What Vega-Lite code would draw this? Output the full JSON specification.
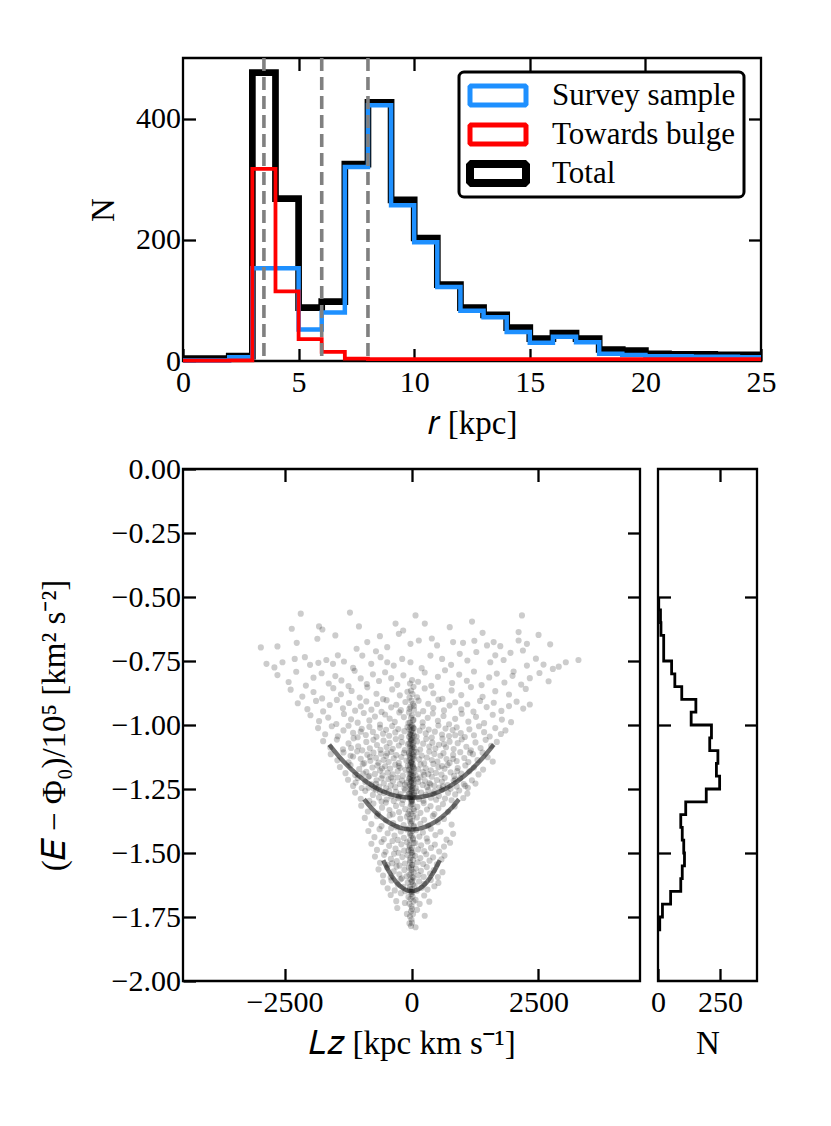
{
  "$schema": "https://vega.github.io/schema/vega-lite/v6.json",
  "background": "white",
  "padding": {"left": 36, "top": 55, "right": 5, "bottom": 5},
  "config": {
    "font": "Liberation Serif",
    "view": {"stroke": "black", "strokeWidth": 2.3},
    "axis": {
      "domain": false, "grid": false, "labelFlush": false,
      "tickColor": "black", "tickWidth": 2.3, "tickSize": -12.5,
      "labelFont": "Liberation Serif", "labelFontSize": 30, "labelColor": "black", "labelPadding": 15,
      "titleFont": "Liberation Serif", "titleFontSize": 33, "titleFontWeight": "normal", "titleColor": "black"
    },
    "axisX": {"labelPadding": 19},
    "legend": {"strokeWidth": 3}
  },
  "bounds": "flush",
  "spacing": 108,
  "vconcat": [
    {
      "width": 578,
      "height": 303,
      "data": {
        "values": "s,r,n\nTotal,0,4\nTotal,1,4\nTotal,2,8\nTotal,3,476\nTotal,4,268\nTotal,5,88\nTotal,6,98\nTotal,7,325\nTotal,8,427\nTotal,9,266\nTotal,10,203\nTotal,11,126\nTotal,12,88\nTotal,13,76\nTotal,14,55\nTotal,15,37\nTotal,16,46\nTotal,17,37\nTotal,18,19\nTotal,19,17\nTotal,20,12\nTotal,21,11\nTotal,22,11\nTotal,23,10\nTotal,24,10\nTotal,25,10\nSurvey sample,0,1\nSurvey sample,1,1\nSurvey sample,2,6\nSurvey sample,3,153\nSurvey sample,4,153\nSurvey sample,5,52\nSurvey sample,6,80\nSurvey sample,7,320\nSurvey sample,8,422\nSurvey sample,9,257\nSurvey sample,10,196\nSurvey sample,11,122\nSurvey sample,12,83\nSurvey sample,13,72\nSurvey sample,14,48\nSurvey sample,15,30\nSurvey sample,16,40\nSurvey sample,17,31\nSurvey sample,18,12\nSurvey sample,19,10\nSurvey sample,20,8\nSurvey sample,21,8\nSurvey sample,22,7\nSurvey sample,23,7\nSurvey sample,24,6\nSurvey sample,25,6\nTowards bulge,0,0.5\nTowards bulge,1,0.5\nTowards bulge,2,1\nTowards bulge,3,317\nTowards bulge,4,115\nTowards bulge,5,36\nTowards bulge,6,15\nTowards bulge,7,4\nTowards bulge,8,3\nTowards bulge,9,3\nTowards bulge,10,3\nTowards bulge,11,3\nTowards bulge,12,3\nTowards bulge,13,3\nTowards bulge,14,3\nTowards bulge,15,3\nTowards bulge,16,3\nTowards bulge,17,3\nTowards bulge,18,3\nTowards bulge,19,3\nTowards bulge,20,3\nTowards bulge,21,3\nTowards bulge,22,3\nTowards bulge,23,3\nTowards bulge,24,3\nTowards bulge,25,3",
        "format": {"type": "csv", "parse": {"r": "number", "n": "number"}}
      },
      "layer": [
        {
          "transform": [{"filter": "datum.s == 'Total'"}],
          "mark": {"type": "line", "interpolate": "step-after", "strokeWidth": 6.7, "strokeJoin": "miter", "strokeCap": "butt"},
          "encoding": {
            "x": {"field": "r", "type": "quantitative", "scale": {"domain": [0, 25], "nice": false},
                  "axis": {"values": [0, 5, 10, 15, 20, 25], "format": "d", "title": "𝑟 [kpc]", "titlePadding": 10}},
            "y": {"field": "n", "type": "quantitative", "scale": {"domain": [0, 500], "nice": false},
                  "axis": {"values": [0, 200, 400], "format": "d", "title": "N", "titlePadding": 15}},
            "color": {
              "field": "s", "type": "nominal",
              "scale": {"domain": ["Survey sample", "Towards bulge", "Total"], "range": ["#1E90FF", "#FF0000", "#000000"]},
              "legend": {
                "title": null, "orient": "none", "legendX": 276, "legendY": 14,
                "strokeColor": "black", "fillColor": "white", "cornerRadius": 5, "padding": 8,
                "labelFont": "Liberation Serif", "labelFontSize": 31, "labelColor": "black", "labelOffset": 54,
                "labelLimit": 400, "rowPadding": 7,
                "symbolType": "M-1,-0.76H3.48V0.76H-1Z", "symbolSize": 625, "symbolStrokeWidth": 5,
                "encode": {"symbols": {"update": {
                  "strokeWidth": {"signal": "datum.label == 'Total' ? 8 : 5"},
                  "strokeJoin": {"value": "bevel"},
                  "fill": {"value": "white"},
                  "opacity": {"value": 1}
                }}}
              }
            },
            "order": {"field": "r", "type": "quantitative"}
          }
        },
        {
          "transform": [{"filter": "datum.s == 'Survey sample'"}],
          "mark": {"type": "line", "interpolate": "step-after", "strokeWidth": 4.5, "strokeJoin": "miter", "strokeCap": "butt"},
          "encoding": {
            "x": {"field": "r", "type": "quantitative", "axis": null},
            "y": {"field": "n", "type": "quantitative", "axis": null},
            "color": {"field": "s", "type": "nominal"},
            "order": {"field": "r", "type": "quantitative"}
          }
        },
        {
          "transform": [{"filter": "datum.s == 'Towards bulge'"}],
          "mark": {"type": "line", "interpolate": "step-after", "strokeWidth": 3.8, "strokeJoin": "miter", "strokeCap": "butt"},
          "encoding": {
            "x": {"field": "r", "type": "quantitative", "axis": null},
            "y": {"field": "n", "type": "quantitative", "axis": null},
            "color": {"field": "s", "type": "nominal"},
            "order": {"field": "r", "type": "quantitative"}
          }
        },
        {
          "data": {"values": [{"r": 3.5}, {"r": 6}, {"r": 8}]},
          "mark": {"type": "rule", "color": "#808080", "strokeWidth": 3.6, "strokeDash": [13, 6]},
          "encoding": {"x": {"field": "r", "type": "quantitative", "axis": null}}
        },
        {
          "mark": {"type": "line", "opacity": 0},
          "encoding": {
            "x": {"field": "r", "type": "quantitative", "axis": {"orient": "top", "labels": false, "title": null, "values": [5, 10, 15, 20]}},
            "y": {"field": "n", "type": "quantitative", "axis": {"orient": "right", "labels": false, "title": null, "values": [200, 400]}}
          }
        }
      ],
      "resolve": {"axis": {"x": "independent", "y": "independent"}}
    },
    {
      "bounds": "flush",
      "spacing": 18,
      "hconcat": [
        {
          "width": 457,
          "height": 512,
          "layer": [
            {
              "data": {
                "values": "l,e\n-2181,-0.565\n-1212,-0.561\n79,-0.572\n1192,-0.596\n2175,-0.572\n-2358,-0.624\n-1821,-0.615\n-1755,-0.627\n-1035,-0.615\n-314,-0.604\n262,-0.604\n753,-0.618\n2109,-0.637\n2502,-0.648\n-2967,-0.697\n-2640,-0.693\n-2260,-0.679\n-1854,-0.663\n-1081,-0.702\n-871,-0.676\n-622,-0.653\n-478,-0.696\n-249,-0.644\n-164,-0.631\n-20,-0.683\n144,-0.670\n504,-0.689\n819,-0.676\n1015,-0.679\n1238,-0.671\n1487,-0.689\n1618,-0.676\n1749,-0.692\n2109,-0.670\n2194,-0.709\n2273,-0.683\n2731,-0.685\n-2856,-0.761\n-2541,-0.755\n-1998,-0.765\n-1834,-0.757\n-1677,-0.746\n-1546,-0.761\n-1330,-0.752\n-969,-0.729\n-793,-0.761\n-609,-0.735\n-478,-0.755\n-183,-0.742\n-20,-0.755\n373,-0.729\n603,-0.742\n950,-0.722\n1277,-0.715\n1552,-0.755\n1814,-0.746\n2011,-0.791\n2273,-0.768\n2600,-0.764\n3039,-0.755\n3288,-0.746\n2784,-0.781\n-2700,-0.775\n-2300,-0.742\n-1450,-0.728\n-1150,-0.777\n-700,-0.712\n-350,-0.768\n200,-0.778\n780,-0.765\n1100,-0.748\n1650,-0.728\n1950,-0.718\n2450,-0.741\n2900,-0.772\n-2100,-0.735\n400,-0.662\n-1500,-0.650\n1400,-0.640\n-2640,-0.805\n-2420,-0.832\n-2270,-0.792\n-2080,-0.846\n-1930,-0.815\n-1770,-0.798\n-1630,-0.838\n-1500,-0.809\n-1380,-0.826\n-1240,-0.848\n-1120,-0.788\n-1000,-0.818\n-880,-0.840\n-760,-0.802\n-640,-0.828\n-520,-0.794\n-400,-0.817\n-280,-0.843\n-160,-0.806\n130,-0.831\n260,-0.795\n390,-0.847\n520,-0.812\n660,-0.786\n800,-0.836\n940,-0.803\n1090,-0.827\n1230,-0.791\n1380,-0.844\n1530,-0.814\n1680,-0.799\n1830,-0.834\n1990,-0.808\n2160,-0.842\n2330,-0.817\n2520,-0.797\n2700,-0.829\n-2380,-0.862\n-2150,-0.889\n-1930,-0.871\n-1760,-0.896\n-1540,-0.856\n-1390,-0.880\n-1180,-0.867\n-1020,-0.893\n-870,-0.853\n-690,-0.878\n-560,-0.899\n-380,-0.861\n-230,-0.884\n-80,-0.870\n110,-0.892\n260,-0.857\n430,-0.876\n610,-0.898\n790,-0.865\n980,-0.883\n1170,-0.852\n1400,-0.890\n1650,-0.868\n1920,-0.881\n2250,-0.859\n-2240,-0.915\n-2050,-0.938\n-1880,-0.906\n-1740,-0.947\n-1610,-0.922\n-1470,-0.902\n-1350,-0.935\n-1230,-0.914\n-1110,-0.944\n-1000,-0.927\n-890,-0.908\n-790,-0.940\n-680,-0.918\n-590,-0.949\n-490,-0.903\n-400,-0.931\n-300,-0.921\n-210,-0.942\n-120,-0.910\n-40,-0.937\n50,-0.925\n140,-0.905\n230,-0.946\n330,-0.917\n430,-0.934\n530,-0.901\n640,-0.943\n750,-0.924\n860,-0.911\n980,-0.939\n1100,-0.919\n1220,-0.948\n1350,-0.906\n1480,-0.930\n1620,-0.913\n1770,-0.945\n1920,-0.926\n2070,-0.909\n2200,-0.936\n2330,-0.920\n-1990,-0.962\n-1820,-0.985\n-1640,-0.971\n-1480,-0.996\n-1330,-0.957\n-1190,-0.978\n-1060,-0.991\n-940,-0.953\n-830,-0.982\n-720,-0.967\n-620,-0.998\n-520,-0.959\n-430,-0.975\n-330,-0.988\n-240,-0.951\n-150,-0.969\n-60,-0.993\n40,-0.980\n130,-0.958\n220,-0.990\n320,-0.972\n420,-0.955\n520,-0.984\n630,-0.965\n740,-0.997\n860,-0.976\n990,-0.956\n1120,-0.987\n1270,-0.968\n1430,-0.993\n1600,-0.960\n1780,-0.979\n1960,-0.989\n-1840,-1.012\n-1700,-1.036\n-1570,-1.005\n-1450,-1.044\n-1340,-1.021\n-1240,-1.003\n-1150,-1.031\n-1060,-1.048\n-980,-1.015\n-900,-1.039\n-830,-1.007\n-760,-1.027\n-690,-1.046\n-620,-1.011\n-560,-1.034\n-500,-1.019\n-440,-1.042\n-380,-1.004\n-320,-1.029\n-260,-1.016\n-200,-1.047\n-140,-1.024\n-80,-1.008\n-20,-1.038\n40,-1.013\n100,-1.045\n160,-1.022\n220,-1.006\n280,-1.033\n340,-1.018\n400,-1.049\n460,-1.026\n530,-1.002\n600,-1.037\n670,-1.014\n740,-1.043\n810,-1.020\n890,-1.009\n970,-1.032\n1050,-1.047\n1140,-1.017\n1230,-1.040\n1330,-1.005\n1430,-1.028\n1540,-1.045\n1650,-1.012\n1760,-1.035\n1850,-1.021\n-1000,-1.026\n860,-1.040\n-1740,-1.063\n-1600,-1.088\n-1470,-1.057\n-1350,-1.095\n-1240,-1.072\n-1140,-1.052\n-1050,-1.083\n-970,-1.099\n-890,-1.066\n-820,-1.091\n-750,-1.058\n-680,-1.078\n-610,-1.097\n-550,-1.061\n-490,-1.086\n-430,-1.070\n-370,-1.093\n-310,-1.055\n-250,-1.080\n-190,-1.067\n-130,-1.098\n-70,-1.075\n-10,-1.059\n50,-1.089\n110,-1.064\n170,-1.096\n230,-1.073\n290,-1.054\n350,-1.084\n410,-1.069\n470,-1.092\n540,-1.077\n610,-1.053\n680,-1.087\n750,-1.065\n830,-1.094\n910,-1.071\n990,-1.056\n1080,-1.085\n1170,-1.099\n1260,-1.068\n1360,-1.090\n1460,-1.058\n1570,-1.081\n1680,-1.066\n-1190,-1.090\n640,-1.075\n-1590,-1.114\n-1460,-1.138\n-1340,-1.107\n-1240,-1.146\n-1150,-1.123\n-1070,-1.103\n-1000,-1.132\n-930,-1.149\n-870,-1.116\n-810,-1.140\n-750,-1.108\n-700,-1.128\n-650,-1.147\n-600,-1.112\n-550,-1.136\n-500,-1.121\n-450,-1.144\n-400,-1.105\n-350,-1.130\n-300,-1.118\n-250,-1.148\n-200,-1.125\n-150,-1.109\n-100,-1.139\n-50,-1.115\n0,-1.146\n50,-1.122\n100,-1.106\n150,-1.134\n200,-1.119\n250,-1.150\n300,-1.127\n350,-1.104\n400,-1.137\n450,-1.113\n510,-1.143\n570,-1.120\n630,-1.110\n690,-1.133\n750,-1.148\n820,-1.117\n890,-1.141\n960,-1.106\n1040,-1.129\n1120,-1.145\n1210,-1.114\n1300,-1.137\n1400,-1.108\n1500,-1.126\n1600,-1.143\n-1200,-1.120\n-820,-1.125\n-480,-1.110\n820,-1.132\n1150,-1.108\n-1410,-1.164\n-1300,-1.188\n-1200,-1.157\n-1110,-1.195\n-1030,-1.172\n-960,-1.153\n-890,-1.183\n-830,-1.199\n-770,-1.166\n-720,-1.191\n-670,-1.158\n-620,-1.178\n-570,-1.197\n-520,-1.161\n-470,-1.186\n-420,-1.170\n-370,-1.193\n-320,-1.155\n-270,-1.180\n-220,-1.167\n-170,-1.198\n-120,-1.175\n-70,-1.159\n-20,-1.189\n30,-1.164\n80,-1.196\n130,-1.173\n180,-1.154\n230,-1.184\n280,-1.169\n330,-1.192\n380,-1.177\n430,-1.152\n480,-1.187\n530,-1.165\n590,-1.194\n650,-1.171\n710,-1.156\n770,-1.185\n840,-1.199\n910,-1.168\n980,-1.190\n1060,-1.158\n1140,-1.181\n1230,-1.166\n1320,-1.193\n1410,-1.174\n-950,-1.190\n-580,-1.170\n-250,-1.160\n250,-1.195\n600,-1.160\n900,-1.180\n-1250,-1.214\n-1150,-1.238\n-1060,-1.207\n-980,-1.246\n-910,-1.223\n-850,-1.203\n-790,-1.232\n-740,-1.249\n-690,-1.216\n-640,-1.241\n-590,-1.208\n-545,-1.228\n-500,-1.247\n-455,-1.211\n-410,-1.236\n-365,-1.220\n-320,-1.243\n-275,-1.205\n-230,-1.230\n-185,-1.217\n-140,-1.248\n-95,-1.225\n-50,-1.209\n-5,-1.239\n40,-1.214\n85,-1.246\n130,-1.223\n175,-1.204\n220,-1.234\n265,-1.219\n310,-1.242\n355,-1.227\n400,-1.202\n450,-1.237\n500,-1.215\n550,-1.244\n600,-1.221\n655,-1.206\n710,-1.235\n770,-1.249\n830,-1.218\n890,-1.240\n960,-1.208\n1030,-1.231\n1110,-1.245\n1190,-1.216\n1260,-1.229\n-1100,-1.225\n-700,-1.230\n-400,-1.205\n-130,-1.233\n120,-1.210\n370,-1.232\n620,-1.240\n860,-1.212\n1060,-1.238\n-850,-1.245\n-1110,-1.264\n-1000,-1.288\n-910,-1.257\n-830,-1.296\n-760,-1.273\n-700,-1.253\n-640,-1.283\n-590,-1.299\n-540,-1.266\n-490,-1.291\n-440,-1.258\n-395,-1.278\n-350,-1.297\n-305,-1.261\n-260,-1.286\n-215,-1.270\n-170,-1.293\n-125,-1.255\n-80,-1.280\n-35,-1.267\n10,-1.298\n55,-1.275\n100,-1.259\n145,-1.289\n190,-1.264\n235,-1.296\n280,-1.273\n330,-1.254\n380,-1.284\n430,-1.269\n485,-1.292\n540,-1.277\n600,-1.252\n660,-1.287\n720,-1.265\n790,-1.294\n860,-1.271\n940,-1.256\n1020,-1.285\n1100,-1.268\n-620,-1.262\n-250,-1.279\n450,-1.260\n-990,-1.315\n-860,-1.338\n-750,-1.307\n-660,-1.346\n-580,-1.323\n-505,-1.303\n-435,-1.332\n-370,-1.349\n-305,-1.316\n-245,-1.340\n-185,-1.308\n-125,-1.328\n-65,-1.347\n-5,-1.311\n55,-1.336\n115,-1.320\n175,-1.343\n240,-1.305\n305,-1.330\n375,-1.317\n450,-1.348\n530,-1.325\n620,-1.309\n720,-1.339\n850,-1.318\n-920,-1.363\n-790,-1.387\n-680,-1.356\n-590,-1.395\n-505,-1.372\n-430,-1.353\n-360,-1.383\n-290,-1.399\n-220,-1.366\n-155,-1.391\n-90,-1.358\n-25,-1.378\n40,-1.397\n105,-1.361\n175,-1.386\n250,-1.370\n330,-1.393\n420,-1.355\n520,-1.380\n640,-1.367\n790,-1.389\n-850,-1.414\n-730,-1.438\n-630,-1.407\n-545,-1.446\n-470,-1.423\n-400,-1.403\n-335,-1.432\n-270,-1.449\n-210,-1.416\n-150,-1.441\n-90,-1.408\n-30,-1.428\n30,-1.447\n90,-1.411\n155,-1.436\n225,-1.420\n300,-1.443\n380,-1.405\n470,-1.430\n570,-1.417\n690,-1.448\n820,-1.425\n-790,-1.464\n-680,-1.488\n-590,-1.457\n-510,-1.495\n-440,-1.472\n-375,-1.453\n-315,-1.483\n-255,-1.499\n-200,-1.466\n-145,-1.491\n-90,-1.458\n-35,-1.478\n20,-1.497\n75,-1.461\n130,-1.486\n190,-1.470\n250,-1.493\n315,-1.455\n385,-1.480\n460,-1.467\n545,-1.494\n640,-1.475\n760,-1.460\n-60,-1.490\n-720,-1.514\n-620,-1.538\n-540,-1.507\n-470,-1.546\n-405,-1.523\n-345,-1.503\n-290,-1.532\n-235,-1.549\n-180,-1.516\n-130,-1.541\n-80,-1.508\n-30,-1.528\n20,-1.547\n70,-1.511\n120,-1.536\n175,-1.520\n230,-1.543\n290,-1.505\n355,-1.530\n425,-1.517\n500,-1.544\n590,-1.525\n650,-1.510\n-380,-1.540\n-650,-1.564\n-560,-1.588\n-480,-1.557\n-410,-1.595\n-350,-1.572\n-295,-1.553\n-240,-1.583\n-190,-1.599\n-140,-1.566\n-95,-1.591\n-50,-1.558\n-5,-1.578\n40,-1.597\n85,-1.561\n135,-1.586\n185,-1.570\n240,-1.593\n300,-1.555\n365,-1.580\n440,-1.567\n520,-1.594\n610,-1.575\n-560,-1.614\n-470,-1.638\n-395,-1.607\n-330,-1.646\n-270,-1.623\n-215,-1.603\n-165,-1.632\n-120,-1.649\n-75,-1.616\n-30,-1.641\n15,-1.608\n60,-1.628\n105,-1.647\n150,-1.611\n200,-1.636\n255,-1.620\n315,-1.643\n380,-1.605\n450,-1.630\n530,-1.617\n-410,-1.664\n-300,-1.688\n-210,-1.657\n-130,-1.695\n-60,-1.672\n10,-1.653\n80,-1.683\n160,-1.699\n250,-1.666\n350,-1.690\n-280,-1.715\n-90,-1.738\n110,-1.722\n260,-1.745\n-40,-1.775\n80,-1.790\n10,-0.825\n-30,-0.838\n40,-0.851\n-10,-0.866\n20,-0.879\n-40,-0.893\n0,-0.905\n30,-0.917\n-20,-0.929\n50,-0.940\n-50,-0.951\n10,-0.962\n-10,-0.972\n30,-0.981\n-30,-0.991\n0,-1.000\n20,-1.004\n-20,-1.008\n40,-1.012\n-40,-1.017\n10,-1.021\n-10,-1.025\n30,-1.030\n-30,-1.034\n0,-1.038\n50,-1.042\n-50,-1.046\n20,-1.050\n-20,-1.054\n10,-1.058\n-10,-1.062\n40,-1.067\n-40,-1.071\n0,-1.075\n30,-1.079\n-30,-1.083\n20,-1.087\n-20,-1.091\n10,-1.095\n-10,-1.100\n50,-1.104\n-50,-1.108\n0,-1.112\n30,-1.116\n-30,-1.120\n20,-1.125\n-20,-1.129\n40,-1.133\n-40,-1.137\n10,-1.141\n-10,-1.145\n0,-1.150\n30,-1.154\n-30,-1.158\n20,-1.162\n-20,-1.166\n50,-1.170\n-50,-1.175\n10,-1.179\n-10,-1.183\n40,-1.187\n-40,-1.191\n0,-1.195\n30,-1.200\n-30,-1.204\n20,-1.208\n-20,-1.212\n10,-1.216\n-10,-1.220\n0,-1.225\n40,-1.229\n-40,-1.233\n30,-1.237\n-30,-1.241\n20,-1.245\n-20,-1.250\n10,-1.254\n-10,-1.258\n0,-1.262\n50,-1.266\n-50,-1.270\n20,-1.275\n-20,-1.279\n30,-1.283\n-30,-1.287\n0,-1.291\n10,-1.295\n-10,-1.299\n20,-1.309\n-20,-1.318\n40,-1.328\n-40,-1.337\n0,-1.347\n30,-1.356\n-30,-1.366\n10,-1.375\n-10,-1.385\n50,-1.394\n-50,-1.404\n20,-1.413\n-20,-1.423\n0,-1.432\n30,-1.442\n-30,-1.451\n40,-1.461\n-40,-1.470\n10,-1.480\n-10,-1.489\n0,-1.499\n20,-1.508\n-20,-1.518\n30,-1.527\n-30,-1.537\n10,-1.546\n-10,-1.556\n0,-1.565\n40,-1.575\n-40,-1.584\n20,-1.594\n-20,-1.603\n0,-1.613\n30,-1.622\n-30,-1.632\n10,-1.641\n-10,-1.651\n0,-1.660\n20,-1.670\n-20,-1.679\n40,-1.689\n-40,-1.698\n0,-1.708\n10,-1.718\n-10,-1.728\n30,-1.738\n-30,-1.748\n0,-1.760\n10,-1.772\n-10,-1.785",
                "format": {"type": "csv", "parse": {"l": "number", "e": "number"}}
              },
              "mark": {"type": "circle", "size": 38, "color": "black", "opacity": 0.2},
              "encoding": {
                "x": {"field": "l", "type": "quantitative", "scale": {"domain": [-4500, 4500], "nice": false, "zero": false},
                      "axis": {"values": [-2500, 0, 2500], "format": "d", "title": "𝐿𝑧 [kpc km s⁻¹]", "titlePadding": 10}},
                "y": {"field": "e", "type": "quantitative", "scale": {"domain": [-2, 0], "nice": false, "zero": false},
                      "axis": {"values": [-2, -1.75, -1.5, -1.25, -1, -0.75, -0.5, -0.25, 0], "format": ".2f", "title": "(𝐸 − Φ₀)/10⁵ [km² s⁻²]", "titlePadding": 40}}
              }
            },
            {
              "data": {
                "values": "c,l,e\n1,-1620,-1.077\n1,-1420,-1.125\n1,-1200,-1.170\n1,-900,-1.220\n1,-600,-1.256\n1,-300,-1.277\n1,0,-1.284\n1,300,-1.277\n1,600,-1.256\n1,900,-1.220\n1,1200,-1.170\n1,1420,-1.125\n1,1620,-1.077\n2,-935,-1.290\n2,-800,-1.322\n2,-600,-1.359\n2,-400,-1.386\n2,-200,-1.403\n2,0,-1.408\n2,200,-1.403\n2,400,-1.386\n2,600,-1.359\n2,800,-1.322\n2,935,-1.290\n3,-557,-1.528\n3,-450,-1.570\n3,-300,-1.614\n3,-150,-1.640\n3,0,-1.649\n3,150,-1.640\n3,300,-1.614\n3,450,-1.570\n3,557,-1.528",
                "format": {"type": "csv", "parse": {"l": "number", "e": "number"}}
              },
              "mark": {"type": "line", "interpolate": "monotone", "color": "black", "opacity": 0.55, "strokeWidth": 4.5},
              "encoding": {
                "x": {"field": "l", "type": "quantitative", "scale": {"domain": [-4500, 4500], "nice": false, "zero": false},
                      "axis": {"orient": "top", "labels": false, "title": null, "values": [-2500, 0, 2500]}},
                "y": {"field": "e", "type": "quantitative", "scale": {"domain": [-2, 0], "nice": false, "zero": false},
                      "axis": {"orient": "right", "labels": false, "title": null, "values": [-1.75, -1.5, -1.25, -1, -0.75, -0.5, -0.25]}},
                "detail": {"field": "c", "type": "nominal"},
                "order": {"field": "l", "type": "quantitative"}
              }
            }
          ],
          "resolve": {"axis": {"x": "independent", "y": "independent"}}
        },
        {
          "width": 99,
          "height": 512,
          "data": {
            "values": "e,n\n-0.50,3\n-0.55,10\n-0.60,12\n-0.65,23\n-0.70,23\n-0.75,55\n-0.80,68\n-0.85,96\n-0.90,153\n-0.95,134\n-1.00,216\n-1.05,209\n-1.10,242\n-1.15,236\n-1.20,249\n-1.25,195\n-1.30,112\n-1.35,92\n-1.40,98\n-1.45,104\n-1.50,107\n-1.55,98\n-1.60,92\n-1.65,51\n-1.70,18\n-1.75,7\n-1.80,0",
            "format": {"type": "csv", "parse": {"e": "number", "n": "number"}}
          },
          "layer": [
            {
              "mark": {"type": "line", "interpolate": "step-before", "color": "black", "strokeWidth": 2.8, "strokeJoin": "miter"},
              "encoding": {
                "x": {"field": "n", "type": "quantitative", "scale": {"domain": [0, 400], "nice": false},
                      "axis": {"values": [0, 250], "format": "d", "title": "N", "titlePadding": 10}},
                "y": {"field": "e", "type": "quantitative", "scale": {"domain": [-2, 0], "nice": false, "zero": false},
                      "axis": {"values": [-1.5, -1, -0.5], "labels": false, "title": null}},
                "order": {"field": "e", "type": "quantitative", "sort": "descending"}
              }
            },
            {
              "mark": {"type": "line", "opacity": 0},
              "encoding": {
                "x": {"field": "n", "type": "quantitative", "axis": {"orient": "top", "labels": false, "title": null, "values": [250]}},
                "y": {"field": "e", "type": "quantitative", "axis": {"orient": "right", "labels": false, "title": null, "values": [-1.5, -1, -0.5]}}
              }
            }
          ],
          "resolve": {"axis": {"x": "independent", "y": "independent"}}
        }
      ]
    }
  ]
}
